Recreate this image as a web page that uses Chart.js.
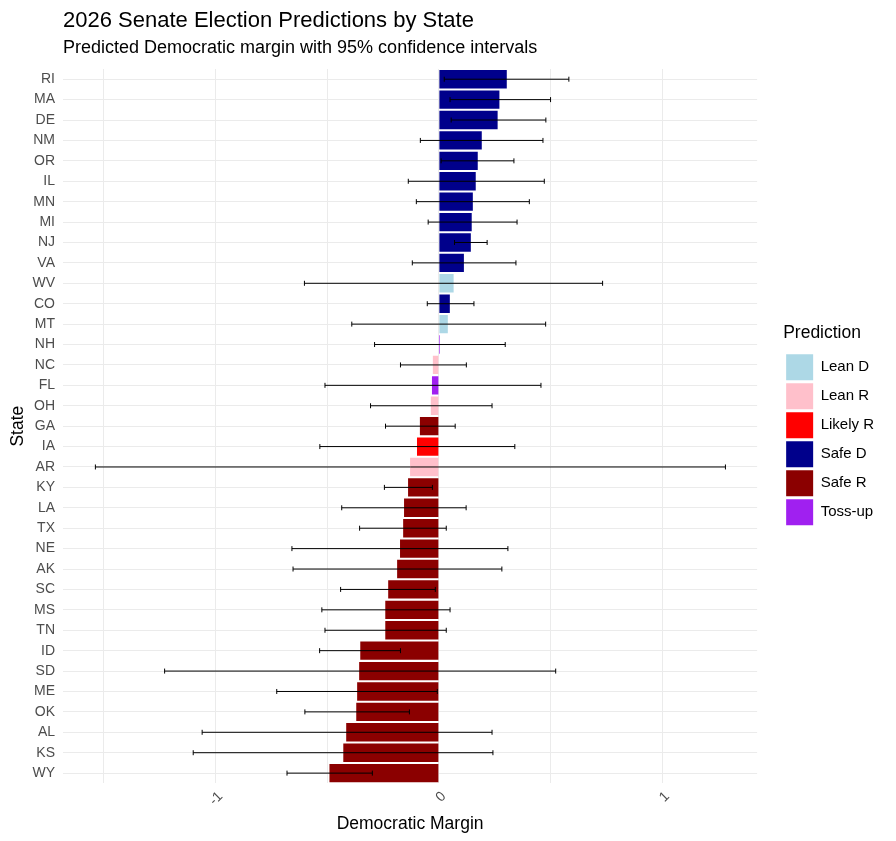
<!DOCTYPE html>
<html>
<head>
<meta charset="utf-8">
<title>2026 Senate Election Predictions by State</title>
<script src="https://cdn.jsdelivr.net/npm/chart.js@4.4.1/dist/chart.umd.min.js"></script>
<style>
  html, body { margin: 0; padding: 0; background: #fff; }
  #wrap { position: relative; width: 896px; height: 841px; }
  #wrap canvas { position: absolute; left: 0; top: 0; }
  .ttl { position: absolute; left: 63px; top: 7px; font: 22px "Liberation Sans", Arial, sans-serif; color: #000; white-space: nowrap; }
  .sub { position: absolute; left: 63px; top: 37px; font: 18px "Liberation Sans", Arial, sans-serif; color: #000; white-space: nowrap; }
</style>
</head>
<body>
<div id="wrap">
  <canvas id="myChart" width="896" height="841"></canvas>
  <div class="ttl">2026 Senate Election Predictions by State</div>
  <div class="sub">Predicted Democratic margin with 95% confidence intervals</div>
</div>
<script>
// Данные (сверху вниз, как на графике)
const states = ["RI", "MA", "DE", "NM", "OR", "IL", "MN", "MI", "NJ", "VA", "WV", "CO", "MT", "NH", "NC", "FL", "OH", "GA",
    "IA", "AR", "KY", "LA", "TX", "NE", "AK", "SC", "MS", "TN", "ID", "SD", "ME", "OK", "AL", "KS", "WY"];
const margin = [0.304, 0.271, 0.263, 0.192, 0.174, 0.165, 0.152, 0.147, 0.143, 0.112, 0.066, 0.049, 0.040, 0.005, -0.027, -0.031, -0.036, -0.085,
    -0.098, -0.129, -0.138, -0.156, -0.160, -0.174, -0.187, -0.227, -0.240, -0.240, -0.352, -0.357, -0.366, -0.370, -0.415, -0.428, -0.490];
const lower = [0.024, 0.050, 0.055, -0.083, 0.010, -0.137, -0.101, -0.048, 0.070, -0.119, -0.602, -0.052, -0.390, -0.288, -0.172, -0.510, -0.306, -0.239,
    -0.533, -1.538, -0.244, -0.435, -0.355, -0.658, -0.653, -0.440, -0.524, -0.510, -0.534, -1.228, -0.726, -0.600, -1.060, -1.100, -0.680];
const upper = [0.582, 0.500, 0.479, 0.466, 0.336, 0.472, 0.405, 0.350, 0.216, 0.345, 0.733, 0.157, 0.478, 0.297, 0.123, 0.457, 0.238, 0.073,
    0.340, 1.283, -0.029, 0.122, 0.033, 0.309, 0.282, -0.016, 0.050, 0.033, -0.172, 0.523, -0.007, -0.132, 0.238, 0.242, -0.298];
const prediction = ["Safe D", "Safe D", "Safe D", "Safe D", "Safe D", "Safe D", "Safe D", "Safe D", "Safe D", "Safe D", "Lean D", "Safe D", "Lean D",
    "Toss-up", "Lean R", "Toss-up", "Lean R", "Safe R", "Likely R", "Lean R", "Safe R", "Safe R", "Safe R", "Safe R", "Safe R", "Safe R",
    "Safe R", "Safe R", "Safe R", "Safe R", "Safe R", "Safe R", "Safe R", "Safe R", "Safe R"];
const classes = ["Lean D", "Lean R", "Likely R", "Safe D", "Safe R", "Toss-up"];
const classColors = ["#ADD8E6", "#FFC0CB", "#FF0000", "#00008B", "#8B0000", "#A020F0"];

const FONT = "'Liberation Sans', Arial, sans-serif";

// Планки погрешностей поверх столбцов
const errorBars = {
    id: "errorBars",
    afterDatasetsDraw(chart) {
        const ctx = chart.ctx;
        const x = chart.scales.x;
        const y = chart.scales.y;
        ctx.save();
        ctx.strokeStyle = "#000";
        ctx.lineWidth = 1;
        for (let i = 0; i < states.length; i++) {
            const yy = y.getPixelForValue(i);
            const x1 = x.getPixelForValue(lower[i]);
            const x2 = x.getPixelForValue(upper[i]);
            ctx.beginPath();
            ctx.moveTo(x1, yy);
            ctx.lineTo(x2, yy);
            ctx.moveTo(x1, yy - 2.5);
            ctx.lineTo(x1, yy + 2.5);
            ctx.moveTo(x2, yy - 2.5);
            ctx.lineTo(x2, yy + 2.5);
            ctx.stroke();
        }
        ctx.restore();
    }
};

// Пустой блок между графиком и легендой
const legendGap = {
    id: "legendGap",
    beforeInit(chart) {
        Chart.layouts.addBox(chart, {
            position: "right",
            weight: 500,
            fullSize: false,
            options: {},
            isHorizontal() { return false; },
            update(maxWidth, maxHeight) {
                this.width = 26;
                this.height = maxHeight;
            },
            draw() {}
        });
    }
};

let ctx = document.getElementById("myChart").getContext("2d");
let chart = new Chart(ctx, {
    type: "bar",
    data: {
        labels: states,
        datasets: classes.map((c, k) => ({
            label: c,
            data: margin.map((v, i) => prediction[i] === c ? v : null),
            backgroundColor: classColors[k],
            borderWidth: 0,
            barPercentage: 0.9,
            categoryPercentage: 1,
            grouped: false
        }))
    },
    plugins: [errorBars, legendGap],
    options: {
        responsive: false,
        animation: false,
        indexAxis: "y",
        layout: {
            padding: { top: 69, right: 12, left: 3, bottom: 6 }
        },
        plugins: {
            title: { display: false },
            tooltip: { enabled: false },
            legend: {
                position: "right",
                align: "center",
                fullSize: false,
                title: {
                    display: true,
                    text: "Prediction",
                    position: "start",
                    color: "#000",
                    font: { family: FONT, size: 17.5 },
                    padding: { top: 0, bottom: 6 }
                },
                labels: {
                    boxWidth: 27,
                    boxHeight: 26,
                    padding: 3,
                    color: "#000",
                    font: { family: FONT, size: 15 }
                }
            }
        },
        scales: {
            x: {
                type: "linear",
                min: -1.683,
                max: 1.425,
                grid: { color: "#EBEBEB", lineWidth: 1, drawTicks: false },
                border: { display: false },
                ticks: {
                    stepSize: 0.5,
                    includeBounds: false,
                    minRotation: 45,
                    maxRotation: 45,
                    padding: 5,
                    labelOffset: 5,
                    color: "#4D4D4D",
                    font: { family: FONT, size: 14 },
                    callback: v => Number.isInteger(v) ? String(v) : ""
                },
                title: {
                    display: true,
                    text: "Democratic Margin",
                    color: "#000",
                    font: { family: FONT, size: 17.5 },
                    padding: { top: 0, bottom: 0 }
                }
            },
            y: {
                type: "category",
                offset: true,
                grid: { color: "#EBEBEB", lineWidth: 1, offset: false, drawTicks: false },
                border: { display: false },
                ticks: {
                    autoSkip: false,
                    padding: 8,
                    color: "#4D4D4D",
                    font: { family: FONT, size: 14 }
                },
                title: {
                    display: true,
                    text: "State",
                    color: "#000",
                    font: { family: FONT, size: 17.5 },
                    padding: { top: 5, bottom: 0 }
                },
                // ширина оси как в оригинале
                afterFit: scale => { scale.width = 60; }
            }
        }
    }
});
</script>
</body>
</html>
